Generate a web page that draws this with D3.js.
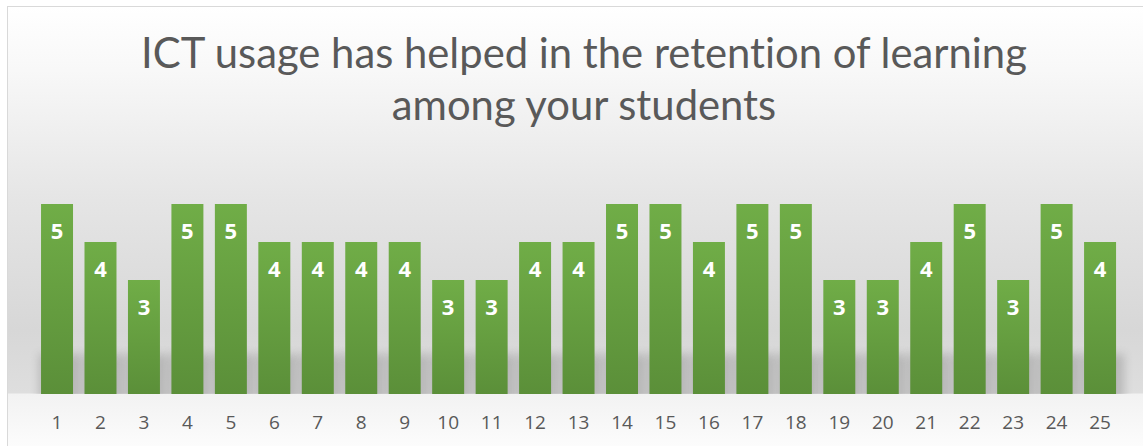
<!DOCTYPE html>
<html lang="en">
<head>
<meta charset="UTF-8">
<title>ICT usage chart</title>
<script src="https://cdn.jsdelivr.net/npm/d3@7/dist/d3.min.js"></script>
<style>
  body { margin: 0; background: #fff; }
  svg { display: block; }
  text { font-variant-ligatures: none; }
</style>
</head>
<body>
<div id="chart"></div>
<script>
// data
var categories = ["1","2","3","4","5","6","7","8","9","10","11","12","13","14","15","16","17","18","19","20","21","22","23","24","25"];
var values = [5,4,3,5,5,4,4,4,4,3,3,4,4,5,5,4,5,5,3,3,4,5,3,5,4];
var titleLines = ["ICT usage has helped in the retention of learning", "among your students"];

var W = 1143, H = 446;
var svg = d3.select("#chart").append("svg")
    .attr("width", W)
    .attr("height", H);

var defs = svg.append("defs");

// background gradient (light top, grey middle, lighter floor)
var bg = defs.append("linearGradient")
    .attr("id", "bgGrad")
    .attr("gradientUnits", "userSpaceOnUse")
    .attr("x1", 0).attr("y1", 6).attr("x2", 0).attr("y2", 446);
[[6, "#ffffff"], [70, "#f8f8f8"], [200, "#e5e5e5"], [330, "#d7d7d7"], [393, "#dedede"],
 [394, "#f2f2f2"], [446, "#fcfcfc"]].forEach(function (s) {
    bg.append("stop").attr("offset", ((s[0] - 6) / 440 * 100) + "%").attr("stop-color", s[1]);
});

var barGrad = defs.append("linearGradient")
    .attr("id", "barGrad")
    .attr("x1", "0%").attr("y1", "0%").attr("x2", "0%").attr("y2", "100%");
barGrad.append("stop").attr("offset", "0%").attr("stop-color", "#70ad47");
barGrad.append("stop").attr("offset", "100%").attr("stop-color", "#5b8f39");

var blur = defs.append("filter").attr("id", "shadowBlur")
    .attr("x", "-50%").attr("y", "-50%").attr("width", "200%").attr("height", "200%");
blur.append("feGaussianBlur").attr("stdDeviation", 5);

defs.append("clipPath").attr("id", "plotClip")
    .append("rect").attr("x", 0).attr("y", 0).attr("width", W).attr("height", 394);

svg.append("rect")
    .attr("x", 7.5).attr("y", 6.5)
    .attr("width", W + 10).attr("height", H + 10)
    .attr("fill", "url(#bgGrad)")
    .attr("stroke", "#d9d9d9");

// title
var title = svg.append("text")
    .attr("text-anchor", "middle")
    .attr("fill", "#595959")
    .style("font-family", "Lato, sans-serif")
    .style("font-weight", 400)
    .style("font-size", "40px");
title.selectAll("tspan")
    .data(titleLines)
    .enter().append("tspan")
    .attr("x", 584)
    .attr("y", function (d, i) { return 68 + i * 52; })
    .text(function (d) { return d; });
// fit first line width to the reference (~886px)
var w0 = title.select("tspan").node().getComputedTextLength();
title.style("font-size", (40 * 886 / w0) + "px");

// scales
var x = d3.scaleBand()
    .domain(categories)
    .range([35.3, 1121.8])
    .paddingInner(0.264)
    .paddingOuter(0.132);

var y = d3.scaleLinear()
    .domain([0, 6])
    .range([394, 166]);

// bar shadows
svg.append("g")
    .attr("clip-path", "url(#plotClip)")
    .selectAll("rect")
    .data(values)
    .enter().append("rect")
    .attr("x", function (d, i) { return x(categories[i]) - 2; })
    .attr("y", y(0) - 40)
    .attr("width", x.bandwidth() + 10)
    .attr("height", 60)
    .attr("fill", "#8c8c8c")
    .attr("opacity", 0.45)
    .attr("filter", "url(#shadowBlur)");

// bars
svg.append("g")
    .selectAll("rect")
    .data(values)
    .enter().append("rect")
    .attr("x", function (d, i) { return x(categories[i]); })
    .attr("y", function (d) { return y(d); })
    .attr("width", x.bandwidth())
    .attr("height", function (d) { return y(0) - y(d); })
    .attr("fill", "url(#barGrad)");

// value labels
svg.append("g")
    .selectAll("text")
    .data(values)
    .enter().append("text")
    .attr("x", function (d, i) { return x(categories[i]) + x.bandwidth() / 2; })
    .attr("y", function (d) { return y(d) + 35; })
    .attr("text-anchor", "middle")
    .attr("fill", "#ffffff")
    .style("font-family", "'Open Sans', sans-serif")
    .style("font-weight", "bold")
    .style("font-size", "22px")
    .text(function (d) { return d; });

// x axis labels
var xAxis = d3.axisBottom(x).tickSize(0).tickPadding(0);
var gx = svg.append("g")
    .attr("transform", "translate(0,415)")
    .call(xAxis);
gx.select(".domain").remove();
gx.selectAll("text")
    .attr("fill", "#595959")
    .attr("dy", "0.71em")
    .style("font-family", "'Open Sans', sans-serif")
    .style("font-size", "19px");
</script>
</body>
</html>
